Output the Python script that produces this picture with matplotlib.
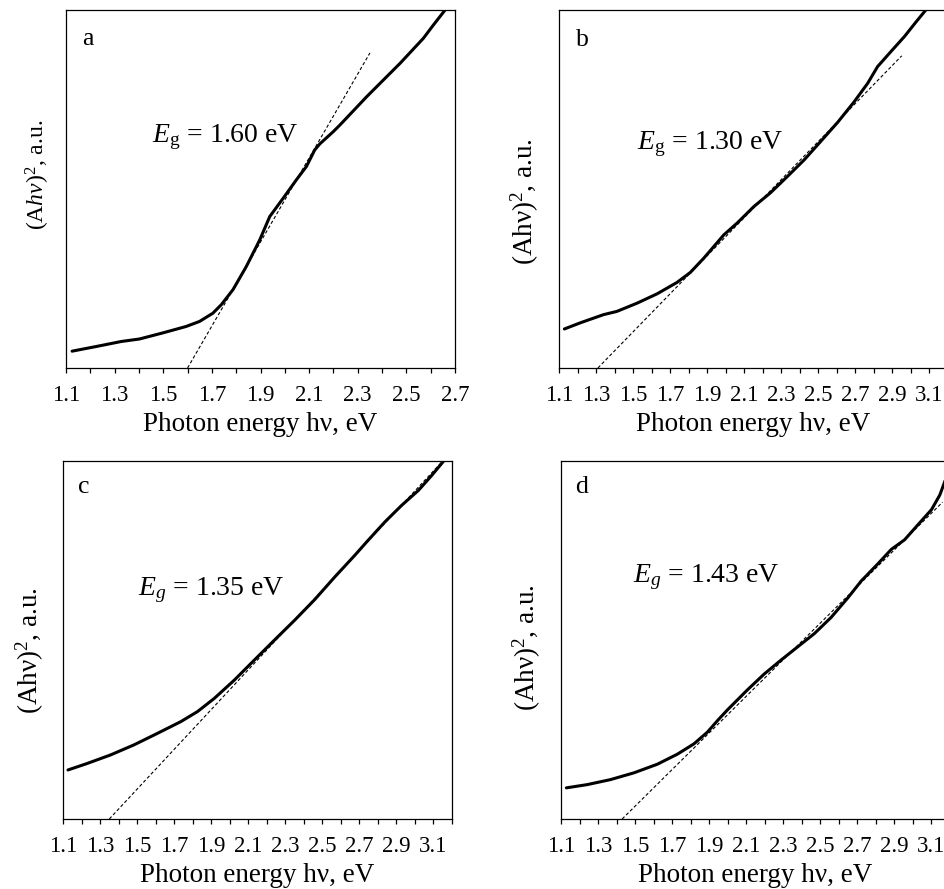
import numpy as np
import matplotlib
matplotlib.use('Agg')
import matplotlib.pyplot as plt
from matplotlib.ticker import AutoMinorLocator

plt.rcParams['font.family'] = 'Liberation Serif'
plt.rcParams['mathtext.fontset'] = 'custom'
plt.rcParams['mathtext.rm'] = 'Liberation Serif'
plt.rcParams['mathtext.it'] = 'Liberation Serif:italic'

# panel a
a_x = [1.125, 1.224, 1.327, 1.402, 1.498, 1.594, 1.649, 1.704, 1.739, 1.787, 1.842, 1.897,
       1.938, 1.993, 2.048, 2.089, 2.123, 2.144, 2.199, 2.227, 2.337, 2.474, 2.570, 2.611, 2.665]
a_y = [0.047, 0.060, 0.074, 0.081, 0.098, 0.116, 0.130, 0.153, 0.177, 0.219, 0.284, 0.358,
       0.423, 0.474, 0.526, 0.563, 0.609, 0.626, 0.660, 0.679, 0.758, 0.851, 0.921, 0.958, 1.005]
a_tan_x = [1.60, 2.35]
a_tan_y = [0.0, 0.88]

# panel b
b_x = [1.129, 1.214, 1.340, 1.412, 1.521, 1.629, 1.737, 1.809, 1.882, 1.990, 2.062, 2.152,
       2.243, 2.333, 2.423, 2.513, 2.604, 2.694, 2.766, 2.820, 2.892, 2.965, 3.028, 3.085]
b_y = [0.109, 0.126, 0.149, 0.158, 0.181, 0.207, 0.239, 0.267, 0.307, 0.372, 0.405, 0.451,
       0.490, 0.535, 0.581, 0.633, 0.686, 0.744, 0.795, 0.842, 0.884, 0.926, 0.967, 1.003]
b_tan_x = [1.31, 2.95]
b_tan_y = [0.0, 0.872]

# panel c
c_x = [1.127, 1.230, 1.357, 1.483, 1.609, 1.736, 1.826, 1.917, 2.025, 2.133, 2.242, 2.350,
       2.459, 2.567, 2.676, 2.748, 2.838, 2.928, 3.019, 3.091, 3.136, 3.160]
c_y = [0.137, 0.155, 0.179, 0.207, 0.239, 0.272, 0.300, 0.337, 0.388, 0.444, 0.500, 0.555,
       0.613, 0.676, 0.737, 0.779, 0.830, 0.876, 0.918, 0.960, 0.988, 1.003]
c_tan_x = [1.35, 3.15]
c_tan_y = [0.0, 1.0]

# panel d
d_x = [1.129, 1.241, 1.367, 1.494, 1.620, 1.728, 1.818, 1.891, 1.945, 1.999, 2.107, 2.197,
       2.288, 2.378, 2.468, 2.558, 2.649, 2.721, 2.811, 2.883, 2.955, 3.027, 3.100, 3.145,
       3.172, 3.20]
d_y = [0.087, 0.096, 0.110, 0.129, 0.153, 0.181, 0.210, 0.243, 0.275, 0.305, 0.361, 0.405,
       0.444, 0.481, 0.518, 0.563, 0.618, 0.665, 0.713, 0.753, 0.780, 0.822, 0.864, 0.905,
       0.943, 0.99]
d_tan_x = [1.43, 3.16]
d_tan_y = [0.0, 0.885]

ticks_a = [1.1, 1.3, 1.5, 1.7, 1.9, 2.1, 2.3, 2.5, 2.7]
ticks_bcd = [1.1, 1.3, 1.5, 1.7, 1.9, 2.1, 2.3, 2.5, 2.7, 2.9, 3.1]

labels = ['a', 'b', 'c', 'd']
eg_text = [r'$E_\mathrm{g}$ = 1.60 eV', r'$E_\mathrm{g}$ = 1.30 eV',
           r'$E_g$ = 1.35 eV', r'$E_g$ = 1.43 eV']
ylabels = [r'(A$hv$)$^2$, a.u.', r'(Ahν)$^2$, a.u.', r'(Ahν)$^2$, a.u.', r'(Ahν)$^2$, a.u.']
ylab_size = [17, 19.5, 19.5, 19.5]

fig = plt.figure(figsize=(9.45, 8.89), dpi=100)
W = 389 / 945
H = 358 / 889
axs = [fig.add_axes([66 / 945, 1 - 368 / 889, W, H]),
       fig.add_axes([559 / 945, 1 - 368 / 889, W, H]),
       fig.add_axes([63 / 945, 1 - 819 / 889, W, H]),
       fig.add_axes([561 / 945, 1 - 819 / 889, W, H])]

curves = [(a_x, a_y, a_tan_x, a_tan_y), (b_x, b_y, b_tan_x, b_tan_y),
          (c_x, c_y, c_tan_x, c_tan_y), (d_x, d_y, d_tan_x, d_tan_y)]
text_pos = [(0.221, 0.631), (0.20, 0.612), (0.193, 0.626), (0.185, 0.662)]
letter_pos = [(0.041, 0.902), (0.044, 0.90), (0.039, 0.91), (0.036, 0.91)]
ylab_pos = [(-0.036, 0.539), (-0.047, 0.464), (-0.043, 0.47), (-0.046, 0.48)]

for i, ax in enumerate(axs):
    x, y, tx, ty = curves[i]
    ax.plot(tx, ty, color='black', lw=0.8, ls=(0, (3, 2)))
    ax.plot(x, y, color='black', lw=2.2, solid_capstyle='round')
    if i == 0:
        ax.set_xlim(1.1, 2.7)
        ax.set_xticks(ticks_a)
        ax.set_xticklabels(['%.1f' % t for t in ticks_a])
    else:
        ax.set_xlim(1.1, 3.2)
        ax.set_xticks(ticks_bcd)
        ax.set_xticklabels(['%.1f' % t for t in ticks_bcd])
    ax.set_ylim(0, 1)
    ax.set_yticks([])
    ax.xaxis.set_minor_locator(AutoMinorLocator(2))
    ax.tick_params(axis='x', which='both', direction='out', length=3.8, width=0.9,
                   labelsize=16.5, pad=8.5)
    for s in ax.spines.values():
        s.set_linewidth(0.9)
    ax.set_xlabel('Photon energy hν, eV', fontsize=19.5, labelpad=4)
    ax.set_ylabel(ylabels[i], fontsize=ylab_size[i])
    ax.yaxis.set_label_coords(*ylab_pos[i])
    ax.text(text_pos[i][0], text_pos[i][1], eg_text[i], transform=ax.transAxes,
            fontsize=20, ha='left', va='baseline')
    ax.text(letter_pos[i][0], letter_pos[i][1], labels[i], transform=ax.transAxes,
            fontsize=18.5, ha='left', va='baseline')

plt.savefig('out.png', dpi=100)
